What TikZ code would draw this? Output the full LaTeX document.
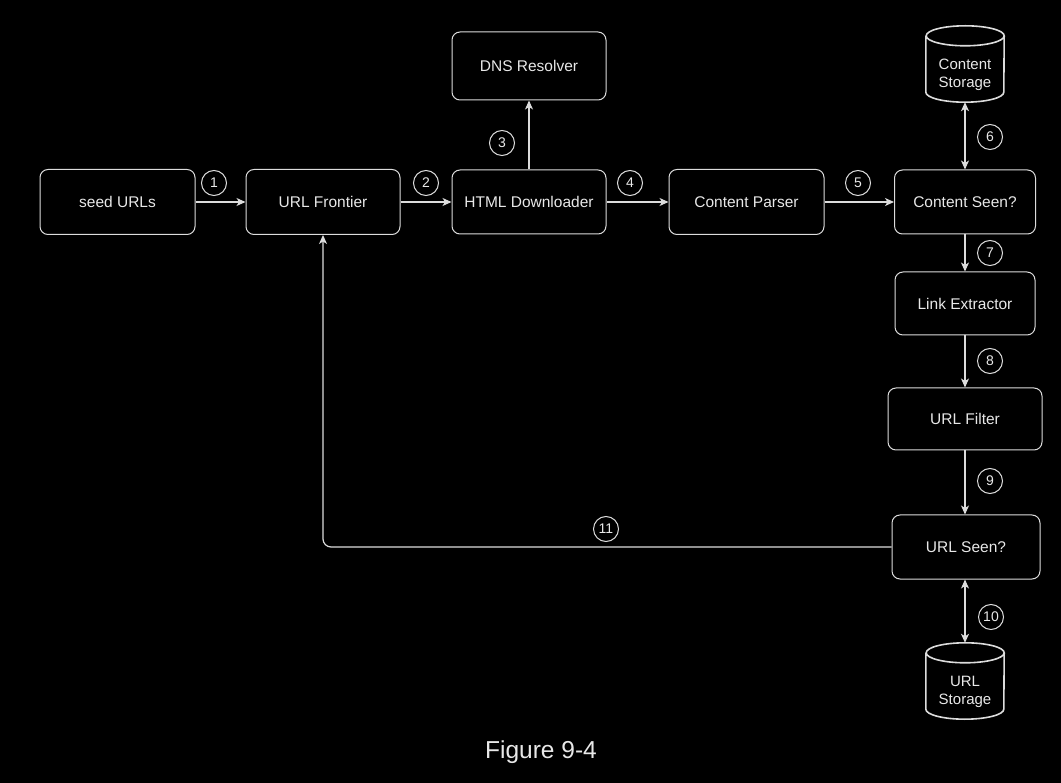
\documentclass[tikz,border=0pt]{standalone}
\usepackage{fontspec}
\setmainfont{Liberation Sans}
\usetikzlibrary{arrows.meta}
\definecolor{linecol}{HTML}{DCDCDC}
\definecolor{txtcol}{HTML}{E8E8E8}
\tikzset{
  box/.style={draw=linecol, line width=1pt, rounded corners=8pt, text=txtcol,
    inner sep=0pt, font=\fontsize{15.5}{18}\selectfont, align=center},
  store/.style={inner sep=0pt, text=txtcol, font=\fontsize{15}{17.5}\selectfont, align=center},
  num/.style={draw=linecol, line width=1pt, circle, minimum size=25pt, inner sep=0pt,
    text=txtcol, font=\fontsize{14}{16}\selectfont},
  conn/.style={draw=linecol, line width=1.2pt, -{Stealth[length=9pt,width=8pt,inset=2.5pt]}},
  bconn/.style={draw=linecol, line width=1.2pt, {Stealth[length=9pt,width=8pt,inset=2.5pt]}-{Stealth[length=9pt,width=8pt,inset=2.5pt]}},
}
\newcommand{\cyl}[1]{%
  \draw[draw=linecol, line width=1.6pt]
    ([yshift=-10pt]#1.north west) -- ([yshift=10pt]#1.south west)
    arc[start angle=180, end angle=360, x radius=39pt, y radius=10pt]
    -- ([yshift=-10pt]#1.north east)
    arc[start angle=0, end angle=360, x radius=39pt, y radius=10pt];
}
\begin{document}
\begin{tikzpicture}[x=1pt,y=-1pt]
\fill[black] (0,0) rectangle (1061,783);
\useasboundingbox (0,0) rectangle (1061,783);

\node[box, minimum width=155pt, minimum height=65pt] (seed) at (117.5,202) {seed URLs};
\node[box, minimum width=154pt, minimum height=65pt] (front) at (323,202) {URL Frontier};
\node[box, minimum width=154pt, minimum height=64pt] (down) at (529,202) {HTML Downloader};
\node[box, minimum width=154pt, minimum height=68pt] (dns) at (529,66) {DNS Resolver};
\node[box, minimum width=155pt, minimum height=65pt] (parse) at (746.5,202) {Content Parser};
\node[box, minimum width=141pt, minimum height=64pt] (cseen) at (965,202) {Content Seen?};
\node[box, minimum width=140pt, minimum height=63pt] (link) at (965,303.5) {Link Extractor};
\node[box, minimum width=154pt, minimum height=62pt] (filt) at (965,419) {URL Filter};
\node[box, minimum width=148pt, minimum height=64pt] (useen) at (966,547) {URL Seen?};

\node[store, minimum width=78pt, minimum height=76pt] (cstore) at (965,64) {};
\cyl{cstore}
\node[store] at (965,75) {Content\\Storage};
\node[store, minimum width=78pt, minimum height=76pt] (ustore) at (965,681) {};
\cyl{ustore}
\node[store] at (965,692) {URL\\Storage};

\node[num] (n1) at (214,183) {1};
\node[num] (n2) at (426,183) {2};
\node[num] (n3) at (502,143) {3};
\node[num] (n4) at (630,183) {4};
\node[num] (n5) at (858,183) {5};
\node[num] (n6) at (990,137) {6};
\node[num] (n7) at (990,253) {7};
\node[num] (n8) at (990,361) {8};
\node[num] (n9) at (990,481) {9};
\node[num] (n10) at (991,617) {10};
\node[num] (n11) at (606,529) {11};

\draw[conn] (seed) -- (front);
\draw[conn] (front) -- (down);
\draw[conn] (down) -- (dns);
\draw[conn] (down) -- (parse);
\draw[conn] (parse) -- (cseen);
\draw[bconn] (cseen.north) -- (cstore.south);
\draw[conn] (cseen) -- (link);
\draw[conn] (link) -- (filt);
\draw[conn] (filt.south) -- (filt.south |- useen.north);
\draw[bconn] (useen.south -| ustore.north) -- (ustore.north);
\draw[conn, rounded corners=8pt] (useen.west) -| (front.south);

\node[text=txtcol, font=\fontsize{24.5}{28}\selectfont] (cap) at (541,752) {Figure 9-4};
\end{tikzpicture}
\end{document}
